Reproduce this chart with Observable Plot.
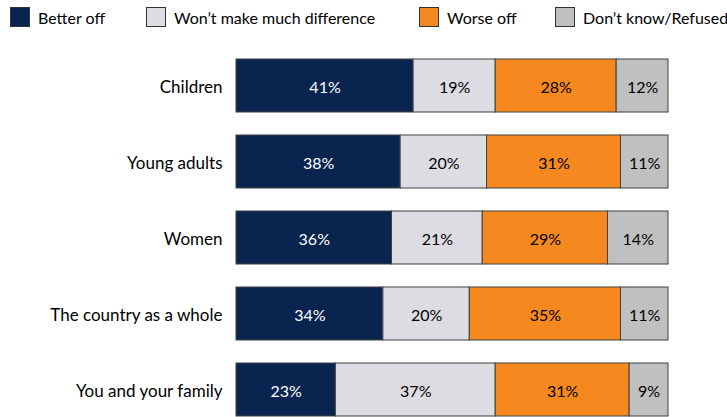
<!DOCTYPE html>
<html><head><meta charset="utf-8">
<script src="https://cdn.jsdelivr.net/npm/d3@7"></script>
<script src="https://cdn.jsdelivr.net/npm/@observablehq/plot@0.6"></script>
<style>
body{margin:0;background:#fff;overflow:hidden;font-family:Lato,"Open Sans",sans-serif;}
#legend{position:relative;height:40px;font-size:16px;color:#000;}
.item{position:absolute;top:7px;display:flex;align-items:center;height:20px;white-space:nowrap;}
.sw{width:20px;height:20px;border:1px solid #333;box-sizing:border-box;margin-right:8px;}
</style></head>
<body>
<div id="legend"></div>
<div id="chart"></div>
<script>
const categories = ["Children","Young adults","Women","The country as a whole","You and your family"];
const responses = ["Better off","Won\u2019t make much difference","Worse off","Don\u2019t know/Refused"];
const colors = ["#0a2450","#dcdce2","#f5891f","#c0c0c0"];
const betterOff = [41,38,36,34,23];
const noDifference = [19,20,21,20,37];
const worseOff = [28,31,29,35,31];
const dontKnow = [12,11,14,11,9];
const legendX = [10,146,419,555];

const series = [betterOff, noDifference, worseOff, dontKnow];
const data = [];
categories.forEach((c,i)=>{
  responses.forEach((r,j)=>data.push({cat:c, resp:r, value:series[j][i]}));
});

const leg = document.getElementById("legend");
responses.forEach((r,j)=>{
  const d = document.createElement("div");
  d.className="item"; d.style.left=legendX[j]+"px";
  d.innerHTML = `<span class="sw" style="background:${colors[j]}"></span><span>${r}</span>`;
  leg.appendChild(d);
});

const chart = Plot.plot({
  width: 727,
  height: 377,
  marginLeft: 236,
  marginRight: 59,
  marginTop: 18,
  marginBottom: 0,
  style: {fontFamily: "Lato, 'Open Sans', sans-serif", fontSize: "16px", color: "#000"},
  x: {domain: [0,100], range: [236,668], axis: null},
  y: {domain: categories, range: [18,378], paddingInner: 0.3, paddingOuter: 0, label: null},
  color: {domain: responses, range: colors},
  marks: [
    Plot.barX(data, Plot.stackX({x:"value", y:"cat", fill:"resp", stroke:"#404040", strokeWidth:1, order: responses})),
    Plot.text(data, Plot.stackX({x:"value", y:"cat", z:"resp", order: responses, text: d=>d.value+"%", fill: d=>d.resp===responses[0]?"#fff":"#000", fontSize:16, dy:1.5})),
    Plot.axisY({tickSize:0, tickPadding:14, fontSize:17, dy:1.5, label:null})
  ]
});
document.getElementById("chart").appendChild(chart);
</script>
</body></html>
